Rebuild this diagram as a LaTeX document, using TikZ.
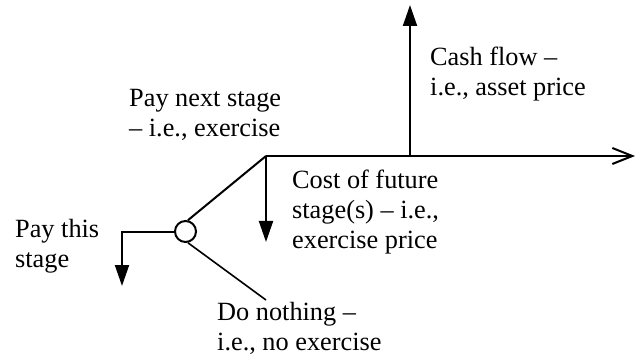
\documentclass[tikz,border=0pt]{standalone}
\usepackage{fontspec}
\setmainfont{Liberation Serif}
\usetikzlibrary{arrows.meta}
\newcommand{\lines}[1]{\begin{tabular}[t]{@{}l@{}}#1\end{tabular}}
\begin{document}
\begin{tikzpicture}[x=1pt,y=-1pt,
  conn/.style={line width=2pt},
  thinconn/.style={line width=1.6pt},
  fillarrow/.style={conn,-{Triangle[length=21pt,width=14pt]}},
  openarrow/.style={conn,-{Straight Barb[length=20pt,width=16pt,line width=2pt]}},
  lbl/.style={anchor=base west,inner sep=0pt,font=\fontsize{26.3}{30}\selectfont},
  choice/.style={circle,draw,conn,minimum size=21pt,inner sep=0pt}]
\useasboundingbox (0,0) rectangle (637,358);
% nodes and coordinates
\node[choice] (c) at (185.5,231.5) {};
\coordinate (J) at (266,156);
\coordinate (lefttip) at (122,286);
\coordinate (jtip) at (266,242);
\coordinate (rtip) at (635,156);
\coordinate (cf) at (410,156);
\coordinate (uptip) at (410,5);
\coordinate (lowend) at (266,300);
% connectors
\draw[fillarrow] (c.west) -| (lefttip);
\draw[conn] (c.78) -- (J);
\draw[thinconn] (c.-78) -- (lowend);
\draw[fillarrow] (J) -- (jtip);
\draw[openarrow] (J) -- (rtip);
\draw[fillarrow] (cf) -- (uptip);
% labels
\node[lbl] (cash) at (430,66) {\lines{Cash flow –\\i.e., asset price}};
\node[lbl] (paynext) at (129,107) {\lines{Pay next stage\\– i.e., exercise}};
\node[lbl] (cost) at (292,189) {\lines{Cost of future\\stage(s) – i.e.,\\exercise price}};
\node[lbl] (paythis) at (15,237) {\lines{Pay this\\stage}};
\node[lbl] (nothing) at (217,320) {\lines{Do nothing –\\i.e., no exercise}};
\end{tikzpicture}
\end{document}
